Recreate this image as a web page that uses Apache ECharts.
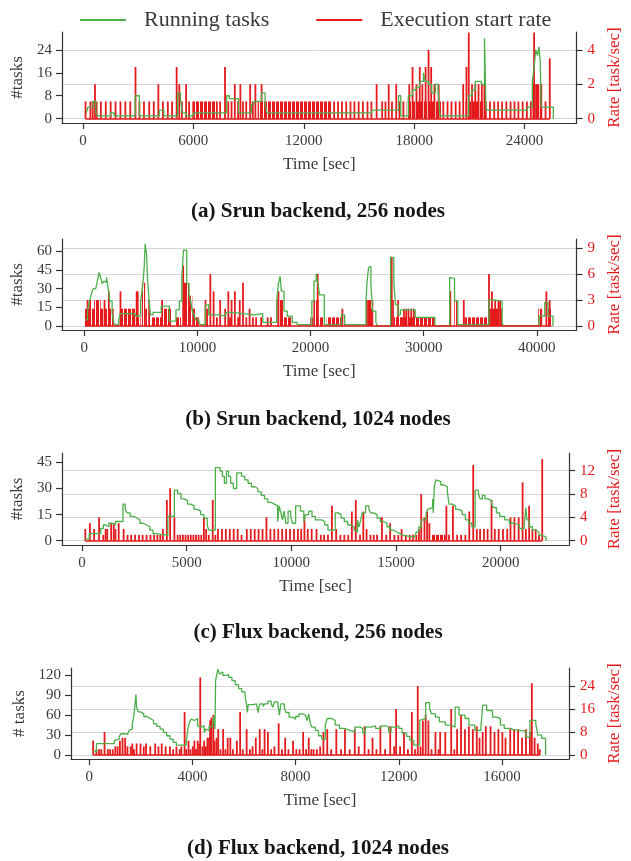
<!DOCTYPE html>
<html>
<head>
<meta charset="utf-8">
<script src="https://cdn.jsdelivr.net/npm/echarts@6.0.0/dist/echarts.min.js"></script>
<style>
  html, body { margin: 0; padding: 0; background: #fff; }
  #chart { width: 631px; height: 861px; }
</style>
</head>
<body>
<div id="chart"></div>
<script>
// ─── Data ──────────────────────────────────────────────────────────────────
// tasks*: [time sec, running tasks]   (step series, value holds until next point)
// rate*:  [time sec, tasks/sec]       (single start-rate spikes)
// dense*: [t0, t1, tasks/sec]         (stretches where spikes are packed tight)

// (a) Srun backend, 256 nodes
const tasksA = [[180,2],[270,4],[550,6],[700,2],[800,1],[1500,2],[1700,1],[2840,8],[3070,1],[4150,3],[4400,1],
  [5150,9],[5300,7],[5400,2],[5600,1],[6000,2],[7810,8],[7950,7],[8450,2],[9150,5],[9300,6],[9700,9],[9900,5],
  [10000,2],[12600,2],[15690,3],[17150,8],[17270,1],[17680,8],[17900,10],[18100,11],[18300,13],[18500,16],
  [18600,13],[18780,12],[18950,9],[19150,12],[19300,10],[19400,1],[20960,8],[21140,10],[21320,13],[21500,13],
  [21650,12],[21820,28],[21900,3],[24160,4],[24420,13],[24520,18],[24600,24],[24700,22],[24780,25],[24850,20],
  [24900,4],[25560,0]];
const rateA = [[142,1],[408,1],[533,1],[657,2],[746,1],[976,1],[1243,1],[1509,1],[1775,1],[2041,1],[2308,1],
  [2574,1],[2858,3],[3071,1],[3319,1],[3603,1],[3852,1],[4100,2],[4349,1],[4615,1],[4846,1],[5094,3],[5236,2],
  [5378,1],[5609,2],[5769,1],[7278,1],[7455,1],[7721,3],[7899,1],[8076,1],[8254,2],[8431,1],[8556,2],[8698,1],
  [8875,1],[9088,2],[9230,1],[9372,2],[9709,2],[13651,1],[13864,1],[14077,1],[14308,1],[14539,1],[14752,1],
  [14983,1],[15213,1],[15462,1],[15675,1],[15959,2],[16260,1],[16438,1],[16616,2],[16793,1],[17024,2],[17201,1],
  [17414,1],[17734,2],[17911,3],[18124,2],[18302,3],[18444,2],[18621,3],[18781,4],[18923,3],[19100,2],[19331,2],
  [19580,1],[19811,1],[20024,1],[20254,1],[20467,1],[20663,2],[20840,3],[20964,5],[21142,2],[21319,2],[21497,2],
  [21674,2],[21816,2],[22118,1],[22349,1],[22562,1],[22775,1],[23006,1],[23236,1],[23449,1],[23662,1],[23893,1],
  [24124,1],[24337,1],[24514,5],[24621,2],[24869,2],[25136,1],[25367,3.5]];
const denseA = [[5946,7189,1],[9496,13509,1],[17592,19456,1],[20787,21941,1],[24426,24958,2]];
const xTicksA = [0, 6000, 12000, 18000, 24000];
const yTicksA = [0, 8, 16, 24];
const rTicksA = [0, 2, 4];

// (b) Srun backend, 1024 nodes
const tasksB = [[58,5],[289,12],[450,20],[579,24],[700,28],[810,30],[1013,31],[1158,36],[1302,43],[1447,39],
  [1592,34],[1736,36],[1881,35],[1968,39],[2100,31],[2250,20],[2460,10],[2600,3],[2749,1],[3039,5],[3183,10],
  [4486,8],[4978,20],[5151,31],[5296,47],[5383,66],[5499,58],[5614,34],[5730,20],[5846,9],[6077,11],[6801,16],
  [7524,4],[8103,13],[8400,20],[8624,40],[8769,61],[9058,34],[9261,25],[9406,20],[9550,12],[9695,9],[9840,5],
  [10129,3],[10274,1],[10708,17],[10997,9],[11865,8],[12500,11],[13023,10],[14000,9],[15000,10],[15772,3],
  [17000,20],[17161,34],[17306,40],[17422,28],[17653,12],[17942,8],[18377,3],[18811,1],[20113,20],[20300,36],
  [20490,42],[20650,34],[20800,25],[21216,1],[22724,9],[23013,1],[24898,20],[24985,35],[25130,47],[25246,48],
  [25333,34],[25478,12],[25768,3],[25913,0],[27072,55],[27362,34],[27507,17],[27739,9],[27942,13],[29246,7],
  [30986,0],[32290,39],[32435,38],[32725,20],[33015,1],[35769,21],[36146,20],[36929,3],[37016,0],[40204,8],
  [40697,19],[40987,8],[41422,0]];
const rateB = [[290,3],[520,3],[1790,3],[2170,4],[3200,4],[4630,4],[4720,4],[5730,3],[6880,3],[8740,7],
  [10710,3],[10850,2],[11140,6],[11430,4],[11720,1],[12010,3],[12450,2],[12730,4],[12880,1],[13020,3],[13310,4],
  [13600,1],[13740,3],[14030,5],[14320,1],[14610,2],[14900,1],[15190,1],[15630,1],[16210,1],[16500,1],[17160,4],
  [20630,6],[22810,2],[24985,3],[25270,3],[25360,2],[27100,8],[27170,8],[27740,3],[28250,2],[28450,2],[28650,2],
  [28900,2],[29130,2],[32350,4],[33540,3],[35770,6],[36030,4],[36320,3],[36610,3],[36750,3],[40840,4],[41130,3]];
const denseB = [[60,2600,2],[870,1450,3],[3180,4630,2],[4630,4980,1],[5090,5380,5],[5380,5610,2],[5930,6950,1],
  [6950,7670,2],[8100,8540,1],[8740,9260,5],[9260,9550,3.5],[9550,9840,2],[9840,10130,1],[17075,17650,3],
  [17650,18380,1],[19970,20250,1],[20250,20700,3],[20700,21130,1],[21420,22580,1],[22600,23000,1],
  [24900,25540,3],[27217,27360,3],[27360,30990,1],[32700,32950,3],[33600,35620,1],[35800,36930,2],
  [40120,40470,2],[40980,41280,2]];
const xTicksB = [0, 10000, 20000, 30000, 40000];
const yTicksB = [0, 15, 30, 45, 60];
const rTicksB = [0, 3, 6, 9];

// (c) Flux backend, 256 nodes
const tasksC = [[141,1],[344,4],[892,7],[1017,9],[1127,8],[1283,10],[1440,9],[1596,11],[1956,21],[2066,18],
  [2144,16],[2301,14],[2457,13],[2614,12],[2770,10],[2927,9],[3083,8],[3240,6],[3396,4],[3553,3],[4100,14],
  [4413,29],[4570,27],[4727,24],[4883,23],[5040,21],[5196,20],[5353,18],[5509,17],[5666,15],[5822,13],[5979,9],
  [6057,6],[6370,42],[6600,40],[6700,37],[6800,33],[6900,40],[7000,37],[7100,33],[7230,30],[7390,39],[7622,37],
  [7778,35],[7934,33],[8091,31],[8248,30],[8404,28],[8561,26],[8717,24],[8874,22],[9030,21],[9187,20],[9343,11],
  [9421,20],[9499,16],[9578,12],[9656,17],[9734,10],[9844,17],[9969,14],[10047,10],[10204,20],[10438,17],
  [10595,11],[10673,15],[10830,17],[10986,14],[11143,12],[11438,11],[11594,9],[11750,6],[12094,16],[12219,15],
  [12375,13],[12531,11],[12688,9],[12844,8],[13000,6],[13078,5],[13156,12],[13234,8],[13313,12],[13391,16],
  [13547,20],[13703,18],[13781,16],[13938,15],[14094,13],[14250,11],[14406,10],[14563,8],[14719,6],[14875,5],
  [15031,4],[15188,3],[15344,2],[15891,3],[15969,5],[16094,8],[16203,12],[16438,16],[16516,18],[16594,19],
  [16750,24],[16781,16],[16828,31],[16906,35],[16984,34],[17141,32],[17297,31],[17453,28],[17531,21],[17688,20],
  [17844,18],[18000,17],[18156,15],[18313,12],[18469,10],[18625,8],[18781,29],[18938,27],[19016,24],[19125,26],
  [19250,24],[19406,23],[19563,21],[19641,19],[19797,16],[19953,14],[20188,12],[20422,10],[20656,9],[20891,7],
  [21125,9],[21203,19],[21250,12],[21359,8],[21516,6],[21672,5],[21828,3],[21984,2],[22172,0]];
const rateC = [[157,2],[376,3],[579,2],[814,4],[1017,1],[1127,2],[1205,2],[1393,3],[1518,3],[1596,2],[1753,3],
  [1988,2],[2175,1],[2348,1],[2535,1],[2723,1],[2895,1],[3083,1],[3271,1],[3443,1],[3600,1],[3740,1],[3866,2],
  [4053,7],[4210,9],[4413,4],[4570,1],[4695,1],[4820,1],[4945,1],[5071,1],[5196,1],[5321,1],[5446,1],[5571,1],
  [5697,1],[5822,4],[5931,2],[6057,1],[6244,7],[6370,1],[6495,2],[6683,2],[6870,2],[7058,2],[7246,2],[7434,2],
  [7622,1],[7872,2],[8060,2],[8248,2],[8435,2],[8623,2],[8811,4],[8999,2],[9187,2],[9374,2],[9562,2],[9750,2],
  [9938,2],[10126,2],[10313,2],[10470,2],[10626,4],[10783,2],[10971,2],[11203,2],[11406,1],[11563,1],[11750,1],
  [11938,6],[12141,2],[12344,1],[12531,1],[12719,1],[12891,5],[13078,7],[13281,1],[13438,5],[13594,2],[13781,1],
  [13938,1],[14094,1],[14328,4],[14531,1],[14719,3],[14922,1],[15109,1],[15266,2],[15469,1],[15656,1],[15813,1],
  [15969,1],[16094,2],[16203,8],[16359,4],[16484,5],[16594,3],[17406,6],[17531,1],[17719,6],[17922,1],[18109,1],
  [18313,1],[18500,5],[18688,13],[18859,2],[19016,2],[19203,2],[19375,2],[19563,7],[19719,2],[19906,2],[20109,2],
  [20313,2],[20469,4],[20656,4],[20859,4],[21047,10],[21203,2],[21359,6],[21516,2],[21672,2],[21828,1],[21984,14]];
const denseC = [[16672,17375,1]];
const xTicksC = [0, 5000, 10000, 15000, 20000];
const yTicksC = [0, 15, 30, 45];
const rTicksC = [0, 4, 8, 12];

// (d) Flux backend, 1024 nodes
const tasksD = [[152,5],[279,17],[975,22],[1038,24],[1165,28],[1228,32],[1355,33],[1418,31],[1481,33],[1545,37],
  [1608,39],[1671,47],[1734,60],[1772,75],[1810,91],[1836,72],[1899,65],[1988,62],[2114,58],[2241,55],[2367,52],
  [2494,47],[2621,43],[2747,39],[2874,34],[3000,29],[3127,24],[3254,19],[3380,15],[3760,19],[3823,39],[3887,50],
  [3950,54],[4013,52],[4077,49],[4140,55],[4203,44],[4266,42],[4330,39],[4393,44],[4456,34],[4520,39],[4583,37],
  [4646,44],[4710,42],[4773,44],[4836,59],[4874,39],[4899,112],[4937,120],[4988,129],[5051,122],[5115,125],
  [5178,120],[5279,121],[5406,117],[5532,112],[5659,106],[5786,100],[5912,95],[6039,90],[6102,75],[6127,64],
  [6165,76],[6355,77],[6482,74],[6545,64],[6609,77],[6735,73],[6798,77],[6925,81],[7052,77],[7115,72],[7178,80],
  [7305,77],[7368,60],[7431,77],[7558,72],[7621,64],[7748,57],[7875,54],[8001,58],[8128,62],[8254,60],[8381,59],
  [8444,52],[8508,62],[8571,47],[8634,42],[8761,37],[8887,29],[9014,24],[9150,45],[9226,55],[9400,52],[9532,45],
  [9700,40],[9900,37],[10100,35],[10300,42],[10500,40],[10600,33],[10700,42],[10900,44],[11100,40],[11300,44],
  [11500,42],[11600,35],[11700,42],[11900,44],[12000,40],[12124,33],[12300,28],[12430,22],[12582,15],[12811,52],
  [12887,55],[13039,79],[13192,70],[13268,62],[13420,57],[13573,50],[13802,45],[14031,42],[14183,72],[14336,60],
  [14564,55],[14717,45],[14945,37],[15175,35],[15250,75],[15403,67],[15632,57],[15784,55],[15937,45],[16089,40],
  [16318,38],[16470,37],[16700,36],[16928,27],[17080,52],[17309,47],[17386,30],[17538,25],[17690,0]];
const rateD = [[152,5],[279,2],[380,2],[468,2],[595,8],[722,2],[810,2],[912,2],[1013,3],[1101,3],[1190,5],
  [1291,6],[1393,6],[1481,3],[1608,3],[1671,4],[1734,2],[1836,4],[1988,4],[2114,3],[2203,4],[2367,3],[2557,4],
  [2684,3],[2810,4],[2962,3],[3127,3],[3254,2],[3380,3],[3507,2],[3570,3],[3697,15],[3760,2],[3849,5],[3925,2],
  [4013,3],[4077,5],[4140,2],[4203,5],[4266,4],[4304,27],[4393,3],[4456,5],[4520,3],[4583,6],[4646,6],[4684,12],
  [4735,13],[4811,14],[4861,5],[4937,6],[5001,9],[5089,2],[5191,9],[5279,2],[5367,6],[5469,6],[5570,2],[5722,5],
  [5849,15],[5950,2],[6102,9],[6229,2],[6330,3],[6457,6],[6609,9],[6710,2],[6798,9],[6925,8],[7052,2],[7178,3],
  [7343,11],[7469,2],[7596,6],[7723,2],[7900,5],[8026,2],[8153,2],[8292,8],[8406,2],[8508,6],[8609,2],[8697,2],
  [8824,2],[8951,3],[9077,8],[9226,9],[9379,2],[9577,9],[9760,2],[9913,9],[10096,2],[10294,9],[10446,3],[10675,10],
  [10828,2],[10980,6],[11133,2],[11285,10],[11468,2],[11666,10],[11819,3],[11895,16],[12048,3],[12200,8],[12353,2],
  [12505,15],[12627,2],[12734,24],[12841,3],[12932,12],[13039,14],[13146,12],[13268,2],[13420,8],[13542,2],
  [13603,8],[13801,8],[14030,16],[14152,2],[14259,9],[14411,14],[14564,9],[14716,10],[14869,9],[15021,10],
  [15128,6],[15250,8],[15372,10],[15555,10],[15708,8],[15860,9],[16013,8],[16135,6],[16318,9],[16470,9],[16623,9],
  [16775,6],[16928,9],[17080,8],[17156,25],[17263,6],[17385,4],[17461,2]];
const denseD = [];
const xTicksD = [0, 4000, 8000, 12000, 16000];
const yTicksD = [0, 30, 60, 90, 120];
const rTicksD = [0, 8, 16, 24];

// ─── Look ─────────────────────────────────────────────────────────────────
const GREEN = '#4daf4a';
const RED = '#e41a1c';
const INK = '#3a3a3a';
const SPINE = '#333333';
const FONT = '"Liberation Serif", "DejaVu Serif", serif';

// layout of the four stacked panels (pixel boxes measured on the figure)
const panels = [
  { tasks: tasksA, rate: rateA, dense: denseA, xTicks: xTicksA, yTicks: yTicksA, rTicks: rTicksA,
    caption: '(a) Srun backend, 256 nodes', yName: '#tasks',
    box: { left: 62, top: 32, width: 525, height: 91 },
    x: [-1135, 26824], y: [-1.5, 30.2], r: [-0.25, 5.03], yGap: 34, rGap: 26, capY: 212 },
  { tasks: tasksB, rate: rateB, dense: denseB, xTicks: xTicksB, yTicks: yTicksB, rTicks: rTicksB,
    caption: '(b) Srun backend, 1024 nodes', yName: '#tasks',
    box: { left: 62, top: 239, width: 525, height: 91 },
    x: [-1969, 43512], y: [-3.2, 69.9], r: [-0.46, 10.05], yGap: 34, rGap: 26, capY: 420 },
  { tasks: tasksC, rate: rateC, dense: denseC, xTicks: xTicksC, yTicks: yTicksC, rTicks: rTicksC,
    caption: '(c) Flux backend, 256 nodes', yName: '#tasks',
    box: { left: 62, top: 453, width: 517, height: 92 },
    x: [-956, 23268], y: [-2.5, 50.4], r: [-0.74, 15.04], yGap: 34, rGap: 33, capY: 633 },
  { tasks: tasksD, rate: rateD, dense: denseD, xTicks: xTicksD, yTicks: yTicksD, rTicks: rTicksD,
    caption: '(d) Flux backend, 1024 nodes', yName: '# tasks',
    box: { left: 71, top: 668, width: 508, height: 91 },
    x: [-706, 18600], y: [-6, 131], r: [-1.4, 30.3], yGap: 43, rGap: 33, capY: 849 },
];

// ─── Helpers ──────────────────────────────────────────────────────────────

function axisLine() {
  return { show: true, onZero: false, lineStyle: { color: SPINE, width: 1.2 } };
}

function ticks(values, len) {
  return { show: true, customValues: values, length: len, lineStyle: { color: SPINE, width: 1.2 } };
}

function labels(values, margin, color) {
  return { customValues: values, margin, fontFamily: FONT, fontSize: 15, color,
           formatter: v => String(v) };
}

// comb texture for packed spikes: 3px red, 1px gap, repeated
const comb = document.createElement('canvas');
comb.width = 4; comb.height = 1;
const combCtx = comb.getContext('2d');
combCtx.fillStyle = RED;
combCtx.fillRect(0, 0, 3, 1);

function renderDense(params, api) {
  const p0 = api.coord([api.value(0), 0]);
  const p1 = api.coord([api.value(1), api.value(2)]);
  return {
    type: 'rect',
    shape: { x: p0[0], y: p1[1], width: Math.max(p1[0] - p0[0], 1.5), height: p0[1] - p1[1] },
    style: { fill: { image: comb, repeat: 'repeat' } }
  };
}

// ─── Options ──────────────────────────────────────────────────────────────

function makeOption() {
  const grid = [], xAxis = [], yAxis = [], series = [], graphic = [];

  panels.forEach((p, i) => {
    grid.push(p.box);

    xAxis.push({
      type: 'value', gridIndex: i, min: p.x[0], max: p.x[1],
      name: 'Time [sec]', nameLocation: 'middle', nameGap: 33,
      nameTextStyle: { fontFamily: FONT, fontSize: 17, color: INK },
      axisLine: axisLine(), axisTick: ticks(p.xTicks, 6),
      axisLabel: labels(p.xTicks, 11, INK), splitLine: { show: false }
    });

    yAxis.push({
      type: 'value', gridIndex: i, position: 'left', min: p.y[0], max: p.y[1],
      name: p.yName, nameLocation: 'middle', nameGap: p.yGap,
      nameTextStyle: { fontFamily: FONT, fontSize: 17, color: INK },
      axisLine: axisLine(), axisTick: ticks(p.yTicks, 6),
      axisLabel: labels(p.yTicks, 10, INK), splitLine: { show: false }
    }, {
      type: 'value', gridIndex: i, position: 'right', min: p.r[0], max: p.r[1],
      name: 'Rate [task/sec]', nameLocation: 'middle', nameGap: p.rGap,
      nameTextStyle: { fontFamily: FONT, fontSize: 17, color: RED },
      axisLine: axisLine(), axisTick: ticks(p.rTicks, 6),
      axisLabel: labels(p.rTicks, 11, RED),
      splitLine: { show: true, lineStyle: { color: '#d6d6d6', width: 1 } }
    });

    const starts = p.rate.map(r => r[0]).concat(p.dense.map(d => d[0]));
    const ends = p.rate.map(r => r[0]).concat(p.dense.map(d => d[1]));

    series.push({
      type: 'line', name: 'Running tasks', xAxisIndex: i, yAxisIndex: 2 * i,
      data: p.tasks, step: 'end', symbol: 'none',
      lineStyle: { color: GREEN, width: 1.3 }, itemStyle: { color: GREEN }
    }, {
      type: 'custom', name: 'Execution start rate', xAxisIndex: i, yAxisIndex: 2 * i + 1,
      data: p.dense, renderItem: renderDense, encode: { x: [0, 1], y: 2 },
      itemStyle: { color: RED }
    }, {
      type: 'bar', name: 'Execution start rate', xAxisIndex: i, yAxisIndex: 2 * i + 1,
      data: p.rate, barWidth: 1.8, itemStyle: { color: RED },
      markLine: {
        silent: true, symbol: 'none', label: { show: false },
        lineStyle: { color: RED, width: 1.5, type: 'solid' },
        data: [[{ coord: [Math.min(...starts), 0] }, { coord: [Math.max(...ends), 0] }]]
      }
    });

    graphic.push({
      type: 'text', x: 318, y: p.capY,
      style: { text: p.caption, fill: '#151515', fontFamily: FONT, fontSize: 21, fontWeight: 'bold',
               align: 'center', verticalAlign: 'middle' }
    });
  });

  return {
    animation: false,
    backgroundColor: '#ffffff',
    legend: {
      data: [{ name: 'Running tasks', icon: 'rect' }, { name: 'Execution start rate', icon: 'rect' }],
      left: 75, top: 4, itemWidth: 46, itemHeight: 2, itemGap: 47, selectedMode: false,
      textStyle: { fontFamily: FONT, fontSize: 22, color: INK, padding: [0, 0, 0, 13] }
    },
    grid, xAxis, yAxis, series, graphic
  };
}

// ─── Init ─────────────────────────────────────────────────────────────────

const chart = echarts.init(document.getElementById('chart'), null, { renderer: 'canvas' });
chart.setOption(makeOption());
</script>
</body>
</html>
